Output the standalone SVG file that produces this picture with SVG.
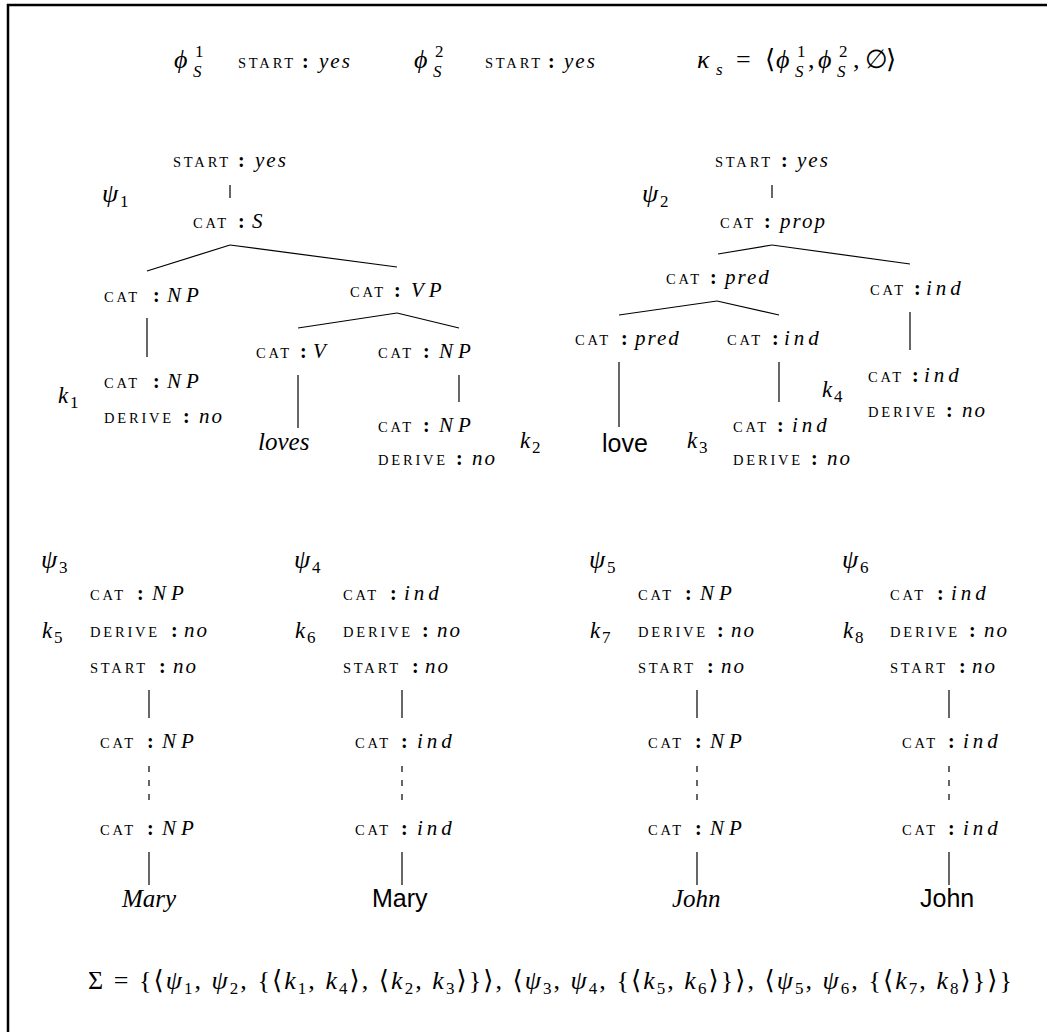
<svg xmlns="http://www.w3.org/2000/svg" width="1047" height="1032" viewBox="0 0 1047 1032">
<style>
text{fill:#000}
.k{font-family:"Liberation Serif","DejaVu Serif",serif;font-size:14.5px;letter-spacing:2.8px}
.c{font-family:"Liberation Serif","DejaVu Serif",serif;font-size:20px;font-weight:bold}
.v{font-family:"Liberation Serif","DejaVu Serif",serif;font-size:21px;font-style:italic;letter-spacing:2px}
.vw{letter-spacing:5px}
.vi{letter-spacing:4px}
.m{font-family:"Liberation Serif","DejaVu Serif",serif;font-size:26px;font-style:italic}
.mu{font-family:"Liberation Serif","DejaVu Serif",serif;font-size:26px}
.sub{font-family:"Liberation Serif","DejaVu Serif",serif;font-size:17px}
.si{font-family:"Liberation Serif","DejaVu Serif",serif;font-size:17px;font-style:italic}
.kl{font-family:"Liberation Serif","DejaVu Serif",serif;font-size:23px;font-style:italic}
.w{font-family:"Liberation Serif","DejaVu Serif",serif;font-size:25px;font-style:italic}
.ws{font-family:"Liberation Sans","DejaVu Sans",sans-serif;font-size:25px}
.ln line{stroke:#000;stroke-width:1.2}
.dash{stroke-dasharray:6 8}
</style>
<path d="M8,1040 V5 H1060" fill="none" stroke="#000" stroke-width="2.5"/>

<g id="header">
<text y="68"><tspan class="m" x="174">ϕ</tspan><tspan class="sub" x="195" y="57">1</tspan><tspan class="si" x="193" y="77">S</tspan></text>
<text y="68"><tspan class="k" x="238">START</tspan><tspan class="c" x="302">:</tspan><tspan class="v" x="319">yes</tspan></text>
<text y="68"><tspan class="m" x="414">ϕ</tspan><tspan class="sub" x="435" y="57">2</tspan><tspan class="si" x="433" y="77">S</tspan></text>
<text y="68"><tspan class="k" x="485">START</tspan><tspan class="c" x="548">:</tspan><tspan class="v" x="564">yes</tspan></text>
<text y="68"><tspan class="m" x="697">κ</tspan><tspan class="si" x="716" y="75">s</tspan><tspan class="mu" x="736" y="68">=</tspan><tspan class="mu" x="765">⟨</tspan><tspan class="m" x="776">ϕ</tspan><tspan class="sub" x="797" y="57">1</tspan><tspan class="si" x="795" y="77">S</tspan><tspan class="mu" x="808" y="68">,</tspan><tspan class="m" x="818">ϕ</tspan><tspan class="sub" x="839" y="57">2</tspan><tspan class="si" x="837" y="77">S</tspan><tspan class="mu" x="853" y="68">,</tspan><tspan class="mu" x="865">∅</tspan><tspan class="mu" x="886">⟩</tspan></text>
</g>

<g id="psi1">
<text y="202"><tspan class="m" x="102">ψ</tspan><tspan class="sub" x="120" y="207">1</tspan></text>
</g>
<g id="n1a"><text y="167"><tspan class="k" x="173">START</tspan><tspan class="c" x="238">:</tspan><tspan class="v" x="255">yes</tspan></text></g>
<g id="n1b"><text y="228"><tspan class="k" x="193">CAT</tspan><tspan class="c" x="238">:</tspan><tspan class="v" x="252">S</tspan></text></g>
<g id="n1c"><text y="302"><tspan class="k" x="104">CAT</tspan><tspan class="c" x="153">:</tspan><tspan class="v vw" x="167">NP</tspan></text></g>
<g id="n1d"><text y="297"><tspan class="k" x="350">CAT</tspan><tspan class="c" x="394">:</tspan><tspan class="v vw" x="411">VP</tspan></text></g>
<g id="n1e">
<text y="403"><tspan class="kl" x="58">k</tspan><tspan class="sub" x="70" y="408">1</tspan></text>
<text y="388"><tspan class="k" x="104">CAT</tspan><tspan class="c" x="153">:</tspan><tspan class="v vw" x="167">NP</tspan></text>
<text y="423"><tspan class="k" x="104">DERIVE</tspan><tspan class="c" x="183">:</tspan><tspan class="v" x="199">no</tspan></text>
</g>
<g id="n1f"><text y="358"><tspan class="k" x="256">CAT</tspan><tspan class="c" x="300">:</tspan><tspan class="v" x="313">V</tspan></text></g>
<g id="n1g"><text y="358"><tspan class="k" x="378">CAT</tspan><tspan class="c" x="423">:</tspan><tspan class="v vw" x="439">NP</tspan></text></g>
<g id="n1h"><text class="w" x="258" y="450">loves</text></g>
<g id="n1i">
<text y="432"><tspan class="k" x="378">CAT</tspan><tspan class="c" x="423">:</tspan><tspan class="v vw" x="439">NP</tspan></text>
<text y="465"><tspan class="k" x="378">DERIVE</tspan><tspan class="c" x="456">:</tspan><tspan class="v" x="472">no</tspan></text>
</g>

<g id="psi2">
<text y="202"><tspan class="m" x="642">ψ</tspan><tspan class="sub" x="660" y="207">2</tspan></text>
</g>
<g id="n2a"><text y="167"><tspan class="k" x="715">START</tspan><tspan class="c" x="781">:</tspan><tspan class="v" x="797">yes</tspan></text></g>
<g id="n2b"><text y="228"><tspan class="k" x="720">CAT</tspan><tspan class="c" x="764">:</tspan><tspan class="v" x="780">prop</tspan></text></g>
<g id="n2c"><text y="284"><tspan class="k" x="666">CAT</tspan><tspan class="c" x="710">:</tspan><tspan class="v" x="725">pred</tspan></text></g>
<g id="n2d"><text y="295"><tspan class="k" x="870">CAT</tspan><tspan class="c" x="914">:</tspan><tspan class="v vi" x="926">ind</tspan></text></g>
<g id="n2e"><text y="345"><tspan class="k" x="575">CAT</tspan><tspan class="c" x="621">:</tspan><tspan class="v" x="635">pred</tspan></text></g>
<g id="n2f"><text y="345"><tspan class="k" x="727">CAT</tspan><tspan class="c" x="772">:</tspan><tspan class="v vi" x="784">ind</tspan></text></g>
<g id="n2g">
<text y="397"><tspan class="kl" x="822">k</tspan><tspan class="sub" x="834" y="402">4</tspan></text>
<text y="382"><tspan class="k" x="868">CAT</tspan><tspan class="c" x="912">:</tspan><tspan class="v vi" x="924">ind</tspan></text>
<text y="417"><tspan class="k" x="868">DERIVE</tspan><tspan class="c" x="946">:</tspan><tspan class="v" x="962">no</tspan></text>
</g>
<g id="n2h">
<text y="448"><tspan class="kl" x="520">k</tspan><tspan class="sub" x="532" y="453">2</tspan></text>
<text class="ws" x="602" y="452">love</text>
</g>
<g id="n2i">
<text y="448"><tspan class="kl" x="687">k</tspan><tspan class="sub" x="699" y="453">3</tspan></text>
<text y="432"><tspan class="k" x="733">CAT</tspan><tspan class="c" x="777">:</tspan><tspan class="v vi" x="792">ind</tspan></text>
<text y="465"><tspan class="k" x="733">DERIVE</tspan><tspan class="c" x="811">:</tspan><tspan class="v" x="827">no</tspan></text>
</g>

<g id="psi3">
<text y="568"><tspan class="m" x="41">ψ</tspan><tspan class="sub" x="59" y="573">3</tspan></text>
<text y="638"><tspan class="kl" x="42">k</tspan><tspan class="sub" x="54" y="643">5</tspan></text>
<text y="600"><tspan class="k" x="90">CAT</tspan><tspan class="c" x="137">:</tspan><tspan class="v vw" x="152">NP</tspan></text>
<text y="637"><tspan class="k" x="90">DERIVE</tspan><tspan class="c" x="171">:</tspan><tspan class="v" x="184">no</tspan></text>
<text y="673"><tspan class="k" x="90">START</tspan><tspan class="c" x="159">:</tspan><tspan class="v" x="173">no</tspan></text>
</g>
<g id="n3b"><text y="748"><tspan class="k" x="100">CAT</tspan><tspan class="c" x="147">:</tspan><tspan class="v vw" x="162">NP</tspan></text></g>
<g id="n3c"><text y="835"><tspan class="k" x="100">CAT</tspan><tspan class="c" x="147">:</tspan><tspan class="v vw" x="162">NP</tspan></text></g>
<g id="n3d"><text class="w" x="122" y="907">Mary</text></g>

<g id="psi4">
<text y="568"><tspan class="m" x="294">ψ</tspan><tspan class="sub" x="312" y="573">4</tspan></text>
<text y="638"><tspan class="kl" x="295">k</tspan><tspan class="sub" x="307" y="643">6</tspan></text>
<text y="600"><tspan class="k" x="343">CAT</tspan><tspan class="c" x="390">:</tspan><tspan class="v vi" x="404">ind</tspan></text>
<text y="637"><tspan class="k" x="343">DERIVE</tspan><tspan class="c" x="422">:</tspan><tspan class="v" x="437">no</tspan></text>
<text y="673"><tspan class="k" x="343">START</tspan><tspan class="c" x="412">:</tspan><tspan class="v" x="425">no</tspan></text>
</g>
<g id="n4b"><text y="748"><tspan class="k" x="355">CAT</tspan><tspan class="c" x="401">:</tspan><tspan class="v vi" x="417">ind</tspan></text></g>
<g id="n4c"><text y="835"><tspan class="k" x="355">CAT</tspan><tspan class="c" x="401">:</tspan><tspan class="v vi" x="417">ind</tspan></text></g>
<g id="n4d"><text class="ws" x="372" y="907">Mary</text></g>

<g id="psi5">
<text y="568"><tspan class="m" x="589">ψ</tspan><tspan class="sub" x="607" y="573">5</tspan></text>
<text y="638"><tspan class="kl" x="590">k</tspan><tspan class="sub" x="602" y="643">7</tspan></text>
<text y="600"><tspan class="k" x="638">CAT</tspan><tspan class="c" x="685">:</tspan><tspan class="v vw" x="700">NP</tspan></text>
<text y="637"><tspan class="k" x="638">DERIVE</tspan><tspan class="c" x="717">:</tspan><tspan class="v" x="731">no</tspan></text>
<text y="673"><tspan class="k" x="638">START</tspan><tspan class="c" x="707">:</tspan><tspan class="v" x="721">no</tspan></text>
</g>
<g id="n5b"><text y="748"><tspan class="k" x="648">CAT</tspan><tspan class="c" x="695">:</tspan><tspan class="v vw" x="710">NP</tspan></text></g>
<g id="n5c"><text y="835"><tspan class="k" x="648">CAT</tspan><tspan class="c" x="695">:</tspan><tspan class="v vw" x="710">NP</tspan></text></g>
<g id="n5d"><text class="w" x="672" y="907">John</text></g>

<g id="psi6">
<text y="568"><tspan class="m" x="842">ψ</tspan><tspan class="sub" x="860" y="573">6</tspan></text>
<text y="638"><tspan class="kl" x="843">k</tspan><tspan class="sub" x="855" y="643">8</tspan></text>
<text y="600"><tspan class="k" x="890">CAT</tspan><tspan class="c" x="937">:</tspan><tspan class="v vi" x="951">ind</tspan></text>
<text y="637"><tspan class="k" x="890">DERIVE</tspan><tspan class="c" x="969">:</tspan><tspan class="v" x="984">no</tspan></text>
<text y="673"><tspan class="k" x="890">START</tspan><tspan class="c" x="959">:</tspan><tspan class="v" x="972">no</tspan></text>
</g>
<g id="n6b"><text y="748"><tspan class="k" x="902">CAT</tspan><tspan class="c" x="948">:</tspan><tspan class="v vi" x="963">ind</tspan></text></g>
<g id="n6c"><text y="835"><tspan class="k" x="902">CAT</tspan><tspan class="c" x="948">:</tspan><tspan class="v vi" x="963">ind</tspan></text></g>
<g id="n6d"><text class="ws" x="920" y="907">John</text></g>

<g id="sigma">
<text y="989" textLength="924" lengthAdjust="spacing" x="88"><tspan class="mu">Σ = {⟨</tspan><tspan class="m">ψ</tspan><tspan class="sub" dy="5">1</tspan><tspan class="mu" dy="-5">, </tspan><tspan class="m">ψ</tspan><tspan class="sub" dy="5">2</tspan><tspan class="mu" dy="-5">, {⟨</tspan><tspan class="m">k</tspan><tspan class="sub" dy="5">1</tspan><tspan class="mu" dy="-5">, </tspan><tspan class="m">k</tspan><tspan class="sub" dy="5">4</tspan><tspan class="mu" dy="-5">⟩, ⟨</tspan><tspan class="m">k</tspan><tspan class="sub" dy="5">2</tspan><tspan class="mu" dy="-5">, </tspan><tspan class="m">k</tspan><tspan class="sub" dy="5">3</tspan><tspan class="mu" dy="-5">⟩}⟩, ⟨</tspan><tspan class="m">ψ</tspan><tspan class="sub" dy="5">3</tspan><tspan class="mu" dy="-5">, </tspan><tspan class="m">ψ</tspan><tspan class="sub" dy="5">4</tspan><tspan class="mu" dy="-5">, {⟨</tspan><tspan class="m">k</tspan><tspan class="sub" dy="5">5</tspan><tspan class="mu" dy="-5">, </tspan><tspan class="m">k</tspan><tspan class="sub" dy="5">6</tspan><tspan class="mu" dy="-5">⟩}⟩, ⟨</tspan><tspan class="m">ψ</tspan><tspan class="sub" dy="5">5</tspan><tspan class="mu" dy="-5">, </tspan><tspan class="m">ψ</tspan><tspan class="sub" dy="5">6</tspan><tspan class="mu" dy="-5">, {⟨</tspan><tspan class="m">k</tspan><tspan class="sub" dy="5">7</tspan><tspan class="mu" dy="-5">, </tspan><tspan class="m">k</tspan><tspan class="sub" dy="5">8</tspan><tspan class="mu" dy="-5">⟩}⟩}</tspan></text>
</g>

<g id="connectors" class="ln">
<line x1="230" y1="185" x2="230" y2="198"/>
<line x1="230" y1="245" x2="147" y2="271"/>
<line x1="230" y1="245" x2="397" y2="267"/>
<line x1="147" y1="318" x2="147" y2="357"/>
<line x1="397" y1="313" x2="298" y2="328"/>
<line x1="397" y1="313" x2="459" y2="328"/>
<line x1="298" y1="375" x2="298" y2="428"/>
<line x1="459" y1="375" x2="459" y2="402"/>
<line x1="772" y1="185" x2="772" y2="198"/>
<line x1="772" y1="245" x2="718" y2="254"/>
<line x1="772" y1="245" x2="910" y2="264"/>
<line x1="910" y1="312" x2="910" y2="350"/>
<line x1="717" y1="301" x2="619" y2="315"/>
<line x1="717" y1="301" x2="779" y2="315"/>
<line x1="619" y1="362" x2="619" y2="427"/>
<line x1="779" y1="362" x2="779" y2="402"/>
<line x1="149" y1="690" x2="149" y2="718"/>
<line class="dash" x1="149" y1="766" x2="149" y2="805"/>
<line x1="149" y1="852" x2="149" y2="885"/>
<line x1="402" y1="690" x2="402" y2="718"/>
<line class="dash" x1="402" y1="766" x2="402" y2="805"/>
<line x1="402" y1="852" x2="402" y2="885"/>
<line x1="697" y1="690" x2="697" y2="718"/>
<line class="dash" x1="697" y1="766" x2="697" y2="805"/>
<line x1="697" y1="852" x2="697" y2="885"/>
<line x1="949" y1="690" x2="949" y2="718"/>
<line class="dash" x1="949" y1="766" x2="949" y2="805"/>
<line x1="949" y1="852" x2="949" y2="885"/>
</g>
</svg>
